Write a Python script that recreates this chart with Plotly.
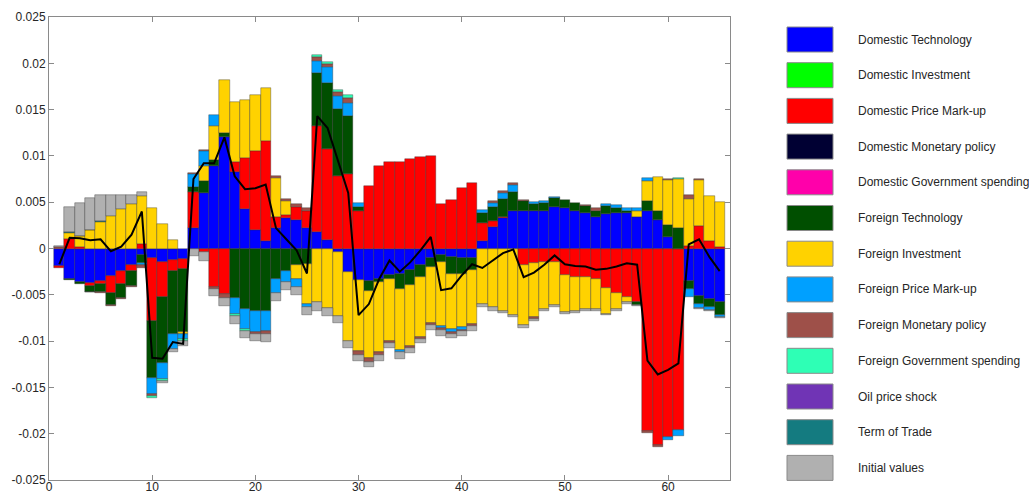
import plotly.graph_objects as go

# ---------------- data (values in units of 0.001) ----------------
periods = list(range(1, 66))

names = ["Domestic Technology", "Domestic Investment", "Domestic Price Mark-up",
         "Domestic Monetary policy", "Domestic Government spending", "Foreign Technology",
         "Foreign Investment", "Foreign Price Mark-up", "Foreign Monetary policy",
         "Foreign Government spending", "Oil price shock", "Term of Trade", "Initial values"]

colors = ["#0000FF", "#00FF00", "#FF0000", "#000033", "#FF00AA", "#004F00",
          "#FFD200", "#00A0FF", "#9E5049", "#2EFFB5", "#7034B5", "#147B80", "#B0B0B0"]

dom_tech = [-1.85, -3.25, -3.65, -3.75, -3.55, -3.0, -2.4, -1.8, -0.7, -1.05,
            -1.45, -1.25, -1.1, 2.25, 6.0, 8.9, 12.0, 8.3, 4.3, 2.0,
            0.8, 2.25, 3.25, 3.1, 2.25, 1.75, 0.9, -0.4, -2.5, -3.35,
            -3.55, -3.3, -2.9, -2.7, -2.35, -1.75, -1.0, -0.65, -0.9, -1.0,
            -1.0, 0.8, 2.35, 3.25, 4.05, 4.05, 4.05, 4.05, 4.5, 4.4,
            4.1, 3.8, 3.45, 3.7, 3.8, 3.8, 3.45, 4.0, 3.05, 1.2,
            0, -3.5, -5.1, -5.4, -5.75]
dom_inv = [0] * 65
dom_markup = [-0.25, 1.05, 0.15, -0.35, -0.25, -1.8, -1.4, -0.6, 0.45, -6.75,
              -3.8, -1.2, -1.15, 3.9, -0.4, -4.2, -4.9, 1.05, 5.5, 8.5,
              10.85, 1.1, 0.35, 1.4, 1.75, 11.45, 9.8, 7.8, 8.0, 4.05,
              6.8, 8.9, 9.3, 9.35, 9.7, 9.9, 9.95, 4.8, 5.25, 6.5,
              7.1, 1.95, 0.65, 0.2, 0, -1.8, -1.6, -1.45, -1.5, -2.9,
              -3.05, -3.05, -3.25, -4.3, -4.8, -5.25, -5.8, -19.7, -21.2, -20.35,
              -19.65, 0.25, 2.4, 0.8, 0.2]
dom_mon = [0] * 65
dom_gov = [0] * 65
for_tech = [0, -0.1, -0.2, -0.55, -0.95, -1.3, -1.55, -1.7, -0.85, -6.2,
            -7.15, -6.8, -6.8, 0.45, 1.25, 0.7, 0.5, -5.35, -6.5, -6.8,
            -6.7, -3.25, -2.4, -1.75, -1.7, 5.7, 7.2, 7.25, 6.3, 0.45,
            -1.05, -0.3, -0.4, -1.65, -1.55, -1.35, -1.0, -0.8, -1.9, -1.7,
            -1.35, 1.05, 1.5, 1.9, 2.1, 1.05, 0.75, 0.85, 0.95, 0.85,
            0.8, 0.8, 0.55, 0.85, 0.6, 0.25, -0.35, 1.1, 1.0, 1.3,
            2.25, -0.9, -0.9, -0.9, -1.4]
for_inv = [0, 0.65, 1.2, 2.0, 2.9, 3.5, 4.25, 4.8, 5.2, 4.35,
           2.6, 0.9, -0.2, 0, 1.65, 3.6, 5.7, 6.5, 6.2, 6.05,
           5.65, 4.25, 1.5, -1.5, -4.25, -5.8, -6.4, -6.85, -7.5, -7.7,
           -7.2, -7.6, -6.7, -6.65, -6.6, -6.5, -6.0, -6.9, -5.9, -5.8,
           -5.8, -5.95, -6.35, -6.7, -7.15, -6.45, -5.8, -5.05, -4.65, -4.0,
           -3.65, -3.45, -3.25, -2.75, -1.7, -0.55, 0.6, 2.2, 3.7, 4.9,
           5.25, 5.15, 5.0, 4.9, 4.8]
for_markup = [0, 0, 0, 0, 0, 0, 0, 0, -0.25, -1.7,
              -1.65, -1.55, -0.5, 1.45, 1.6, 1.2, 0, -1.7, -2.2, -2.25,
              -2.2, -1.55, -1.2, -0.9, -0.35, 1.3, 1.7, 1.45, 1.45, 0.4,
              0, 0, 0, -0.2, 0, 0, 0, -0.25, -0.3, -0.25,
              0, 0.35, 0.45, 0.65, 0.7, 0, 0.2, 0.2, 0.15, 0,
              0, 0, 0, 0.25, 0.3, 0.3, 0.3, 0.3, 0, -0.3,
              -0.55, -0.8, -0.45, -0.3, -0.25]
for_mon = [0.15, 0, 0, -0.07, -0.07, -0.1, -0.1, -0.1, -0.35, -0.25,
           0, 0, 0, 0.15, 0.1, -0.2, -0.45, 0, 0, -0.15,
           -0.35, 0.2, 0.3, 0.3, 0.35, 0.45, 0.3, 0.35, 0.55, -0.45,
           -0.45, -0.35, -0.25, 0, -0.2, -0.2, -0.25, -0.25, -0.25, -0.2,
           -0.25, 0, 0.15, 0.2, 0.25, 0.1, -0.2, 0, 0, 0,
           0, 0.1, 0.35, 0, 0, 0, 0, -0.2, -0.25, 0.1,
           0, 0.35, 0.1, 0, 0]
for_gov = [0, 0, 0, 0, 0, 0, 0, 0, 0, -0.2,
           -0.25, 0, -0.2, 0, 0, 0, 0, -0.2, -0.2, 0,
           0, 0, 0, 0, 0, 0.25, 0.2, 0.25, 0.25, 0,
           0, 0, 0, 0, 0, 0, 0, 0, 0, 0,
           0, 0, 0, 0, 0, 0, 0, 0, 0, 0,
           0, 0, 0, 0, 0, 0, 0, 0, 0, 0,
           0.15, 0, 0, 0, 0]
oil = [0] * 65
tot = [0, 0.05, 0.05, 0.05, 0.05] + [0] * 60
init_vals = [0.15, 2.75, 3.55, 3.45, 2.8, 2.25, 1.5, 1.0, 0.5, 0,
             -0.2, -0.35, -0.55, -0.8, -0.95, -0.75, -0.85, -0.9, -0.8, -0.75,
             -0.85, -0.9, -0.85, -0.85, -0.9, -0.9, -0.85, -0.75, -0.7, -0.6,
             -0.55, -0.55, -0.45, -0.7, -0.6, -0.4, -0.55, -0.55, -0.45, -0.45,
             -0.5, -0.35, -0.35, -0.25, -0.25, -0.35, -0.2, -0.3, -0.2, -0.15,
             -0.25, -0.2, -0.2, -0.15, -0.2, -0.2, -0.1, 0, 0, 0,
             0, 0, -0.1, -0.2, -0.1]

observed = [-1.7, 1.15, 1.1, 0.9, 1.0, -0.3, 0.2, 1.5, 4.0, -11.8,
            -11.9, -10.1, -10.3, 7.5, 9.2, 9.2, 12.0, 7.8, 6.4, 6.5,
            6.9, 2.2, 1.0, -0.2, -2.7, 14.3, 13.0, 9.5, 6.0, -7.2,
            -6.0, -3.3, -1.3, -2.5, -1.5, -0.2, 1.25, -4.5, -4.3, -2.9,
            -1.7, -2.1, -1.3, -0.5, -0.1, -3.1, -2.6, -1.75, -0.75, -1.7,
            -1.9, -1.95, -2.3, -2.2, -1.95, -1.6, -1.75, -12.1, -13.6, -13.1,
            -12.4, 0.45, 1.0, -0.9, -2.45]

x_ticks = [0, 10, 20, 30, 40, 50, 60]
y_ticks = [-0.025, -0.02, -0.015, -0.01, -0.005, 0, 0.005, 0.01, 0.015, 0.02, 0.025]
y_tick_labels = ["-0.025", "-0.02", "-0.015", "-0.01", "-0.005", "0",
                 "0.005", "0.01", "0.015", "0.02", "0.025"]

components = [dom_tech, dom_inv, dom_markup, dom_mon, dom_gov, for_tech,
              for_inv, for_markup, for_mon, for_gov, oil, tot, init_vals]
UNIT = 0.001

# ---------------- figure ----------------
fig = go.Figure()
for name, color, vals in zip(names, colors, components):
    yv = [v * UNIT if v != 0 else None for v in vals]
    fig.add_trace(go.Bar(x=periods, y=yv, name=name, marker_color=color,
                         marker_line=dict(color="rgba(45,45,45,0.75)", width=0.5),
                         showlegend=False))

fig.add_trace(go.Scatter(x=periods, y=[v * UNIT for v in observed], mode="lines",
                         line=dict(color="black", width=2), showlegend=False,
                         name="Observed"))

L, R, T, B = 49, 730, 17, 480
W, H = 1029, 495
fig.update_layout(
    width=W, height=H,
    margin=dict(l=L, r=W - R, t=T, b=H - B, autoexpand=False),
    barmode="relative", bargap=0,
    plot_bgcolor="white", paper_bgcolor="white",
    font=dict(family="Liberation Sans, Arial, sans-serif", size=12, color="#262626"),
    showlegend=False,
)
axis_common = dict(showgrid=False, zeroline=False, showline=True, linecolor="#8a8a8a",
                   linewidth=1, mirror="ticks", ticks="inside", ticklen=5,
                   tickcolor="#8a8a8a", tickfont=dict(size=12, color="#262626"),
                   automargin=False)
fig.update_xaxes(range=[0, 66], tickvals=x_ticks, ticklabelstandoff=-4, **axis_common)
fig.update_yaxes(range=[-0.025, 0.025], tickvals=y_ticks, ticktext=y_tick_labels, **axis_common)

# ---------------- legend (drawn manually with large swatches) ----------------
pw, ph = R - L, B - T
def px_to_paper_x(px):
    return (px - L) / pw
def px_to_paper_y(py):
    return (B - py) / ph

sw_left, sw_right, text_left = 787, 833, 856
first_top, sw_h, step = 27, 25, 35.7
for i, (name, color) in enumerate(zip(names, colors)):
    top = first_top + i * step
    fig.add_shape(type="rect", xref="paper", yref="paper",
                  x0=px_to_paper_x(sw_left), x1=px_to_paper_x(sw_right),
                  y0=px_to_paper_y(top + sw_h), y1=px_to_paper_y(top),
                  fillcolor=color, line=dict(color="#8a8a8a", width=1))
    fig.add_annotation(xref="paper", yref="paper", x=px_to_paper_x(text_left),
                       y=px_to_paper_y(top + sw_h / 2), text=name, showarrow=False,
                       xanchor="left", yanchor="middle",
                       font=dict(size=12, color="#262626"))

fig.write_html("out.html")
